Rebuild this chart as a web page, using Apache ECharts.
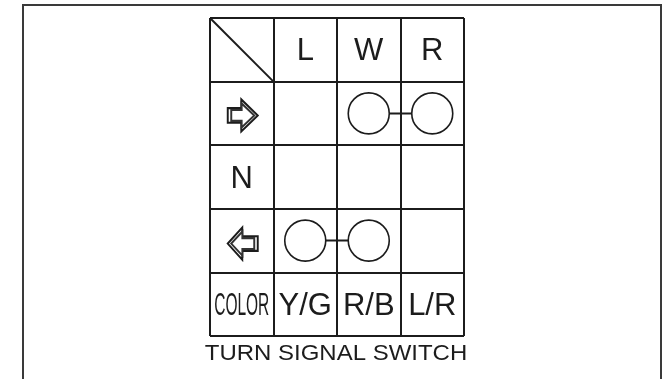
<!DOCTYPE html>
<html><head><meta charset="utf-8">
<style>html,body{margin:0;padding:0;background:#fff}#c{width:664px;height:379px}</style>
<script src="https://cdn.jsdelivr.net/npm/echarts@6/dist/echarts.min.js"></script>
</head><body><div id="c"></div>
<script>
const columnLabels = ['L', 'W', 'R'];
const rowLabels = ['N'];
const rowLabelRows = [2];
const colorLabels = ['Y/G', 'R/B', 'L/R'];
const colorHeader = 'COLOR';
const caption = 'TURN SIGNAL SWITCH';
const rightTurnCircles = [[2.5, 1.5], [3.5, 1.5]];
const leftTurnCircles = [[1.5, 3.5], [2.5, 3.5]];
const diagonal = [[0, 0], [1, 1]];
const rightArrowAt = [[0.5, 1.5]];
const leftArrowAt = [[0.5, 3.5]];

const ink = '#1c1c1c';
const font = '"Liberation Sans", Arial, sans-serif';
const rightArrow = 'path://M0,9 L14,9 L14,0 L31,16.5 L14,33 L14,24 L0,24 Z';
const leftArrow = 'path://M31,9 L15,9 L15,0 L0,16.5 L15,33 L15,24 L31,24 Z';

const cellTexts = [];
columnLabels.forEach((t, i) => cellTexts.push([i + 1.5, 0.5, t]));
rowLabels.forEach((t, i) => cellTexts.push([0.5, rowLabelRows[i] + 0.5, t]));
colorLabels.forEach((t, i) => cellTexts.push([i + 1.5, 4.5, t]));

function link(data) {
  return { type: 'line', data, symbol: 'none', silent: true, z: 2,
           lineStyle: { color: ink, width: 2 } };
}
function circles(data) {
  return { type: 'scatter', data, symbol: 'circle', symbolSize: 41, silent: true, z: 3,
           itemStyle: { color: '#fff', borderColor: ink, borderWidth: 1.6, opacity: 1 } };
}
function arrow(data, path, offset) {
  return [
    { type: 'scatter', data, symbol: path, symbolSize: [30, 32], symbolOffset: offset, silent: true, z: 3,
      itemStyle: { color: '#fff', borderColor: '#1c1c1c', borderWidth: 2, opacity: 1 } },
    { type: 'scatter', data, symbol: path, symbolSize: [23, 24], symbolOffset: offset, silent: true, z: 4,
      itemStyle: { color: '#fff', borderColor: '#333', borderWidth: 2, opacity: 1 } }
  ];
}

const chart = echarts.init(document.getElementById('c'), null, { renderer: 'canvas' });
chart.setOption({
  animation: false,
  backgroundColor: '#fff',
  grid: { left: 210, top: 18, width: 254, height: 318, containLabel: false },
  xAxis: { type: 'value', min: 0, max: 4, interval: 1,
    axisLine: { show: false }, axisTick: { show: false }, axisLabel: { show: false },
    splitLine: { show: true, lineStyle: { color: ink, width: 2 } } },
  yAxis: { type: 'value', min: 0, max: 5, interval: 1, inverse: true,
    axisLine: { show: false }, axisTick: { show: false }, axisLabel: { show: false },
    splitLine: { show: true, lineStyle: { color: ink, width: 2 } } },
  graphic: [
    { type: 'polyline', silent: true,
      shape: { points: [[23, 379], [23, 5], [661, 5], [661, 379]] },
      style: { fill: null, stroke: '#3a3a3a', lineWidth: 2 } },
    { type: 'text', silent: true, x: 336, y: 354, scaleX: 1.09, scaleY: 1,
      style: { text: caption, fontFamily: font, fontSize: 22, fill: ink,
        align: 'center', verticalAlign: 'middle' } }
  ],
  series: [
    link(diagonal),
    link(rightTurnCircles),
    link(leftTurnCircles),
    circles(rightTurnCircles),
    circles(leftTurnCircles),
    ...arrow(rightArrowAt, rightArrow, [1, 2]),
    ...arrow(leftArrowAt, leftArrow, [1, 3]),
    { type: 'scatter', data: cellTexts, symbolSize: 0, silent: true, z: 5,
      itemStyle: { opacity: 1 },
      label: { show: true, position: 'inside', offset: [0, 2], formatter: p => p.data[2],
        fontFamily: font, fontSize: 31, color: ink } },
    { type: 'custom', silent: true, z: 5, data: [[0.5, 4.5, colorHeader]],
      encode: { x: 0, y: 1 },
      renderItem: (params, api) => {
        const pt = api.coord([api.value(0), api.value(1)]);
        return { type: 'text', x: pt[0], y: pt[1] + 2, scaleX: 0.5, scaleY: 1,
          style: { text: colorHeader, fontFamily: font, fontSize: 31, fill: ink,
            align: 'center', verticalAlign: 'middle' } };
      } }
  ]
});
</script></body></html>
